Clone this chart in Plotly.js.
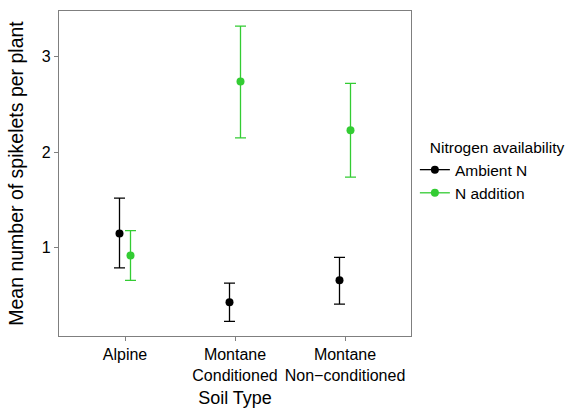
<!DOCTYPE html>
<html>
<head>
<meta charset="utf-8">
<script src="https://cdn.plot.ly/plotly-3.0.1.min.js"></script>
<style>html,body{margin:0;padding:0;background:#fff;}#chart{width:566px;height:409px;}</style>
</head>
<body>
<div id="chart"></div>
<script>
const categories = ["Alpine", "Montane<br>Conditioned", "Montane<br>Non\u2212conditioned"];
const seriesNames = ["Ambient N", "N addition"];
const ambientMean = [1.15, 0.43, 0.66];
const ambientUpper = [1.52, 0.63, 0.90];
const ambientLower = [0.79, 0.23, 0.41];
const additionMean = [0.92, 2.74, 2.23];
const additionUpper = [1.18, 3.32, 2.72];
const additionLower = [0.66, 2.15, 1.74];

const dodge = 0.05;
const catIdx = categories.map((c, i) => i + 1);

// interleave nulls so no connecting line is drawn but the legend shows a line key
function gapped(arr) {
  const out = [];
  arr.forEach((v, i) => { if (i > 0) out.push(null); out.push(v); });
  return out;
}

function makeTrace(name, mean, upper, lower, offset, color) {
  return {
    type: 'scatter', mode: 'markers+lines', name: name,
    x: gapped(catIdx.map(v => v + offset)), y: gapped(mean),
    connectgaps: false,
    line: {color: color, width: 1.3},
    marker: {color: color, size: 8},
    error_y: {
      type: 'data', symmetric: false,
      array: gapped(upper.map((u, i) => u - mean[i])),
      arrayminus: gapped(mean.map((m, i) => m - lower[i])),
      color: color, thickness: 1.3, width: 5.5
    },
    cliponaxis: false
  };
}

const traces = [
  makeTrace(seriesNames[0], ambientMean, ambientUpper, ambientLower, -dodge, '#000000'),
  makeTrace(seriesNames[1], additionMean, additionUpper, additionLower, dodge, '#33CC33')
];

const layout = {
  width: 566, height: 409,
  margin: {l: 59, r: 155, t: 11, b: 73},
  paper_bgcolor: '#ffffff', plot_bgcolor: '#ffffff',
  font: {family: 'Liberation Sans, Arial, sans-serif', size: 16, color: '#000'},
  showlegend: true,
  xaxis: {
    range: [0.4, 3.6], tickvals: catIdx, ticktext: categories,
    showgrid: false, zeroline: false, automargin: false,
    showline: true, linecolor: '#7f7f7f', linewidth: 1.2, mirror: true,
    ticks: 'outside', ticklen: 4, tickcolor: '#7f7f7f', tickwidth: 1,
    tickfont: {size: 16, color: '#000'},
    title: {text: 'Soil Type', font: {size: 18}, standoff: 8}
  },
  yaxis: {
    range: [0.077, 3.478], tickvals: [1, 2, 3],
    showgrid: false, zeroline: false, automargin: false,
    showline: true, linecolor: '#7f7f7f', linewidth: 1.2, mirror: true,
    ticks: 'outside', ticklen: 4, tickcolor: '#7f7f7f', tickwidth: 1,
    tickfont: {size: 16, color: '#000'},
    title: {text: 'Mean number of spikelets per plant', font: {size: 19.5}, standoff: 12}
  },
  legend: {
    xref: 'container', yref: 'container',
    x: 0.733, y: 0.675, xanchor: 'left', yanchor: 'top',
    title: {text: '\u00a0\u00a0\u00a0Nitrogen availability', font: {size: 15.5}},
    font: {size: 15.5}, itemwidth: 30, tracegroupgap: 0,
    bgcolor: 'rgba(0,0,0,0)'
  }
};

Plotly.newPlot('chart', traces, layout, {displayModeBar: false, staticPlot: true});
</script>
</body>
</html>
